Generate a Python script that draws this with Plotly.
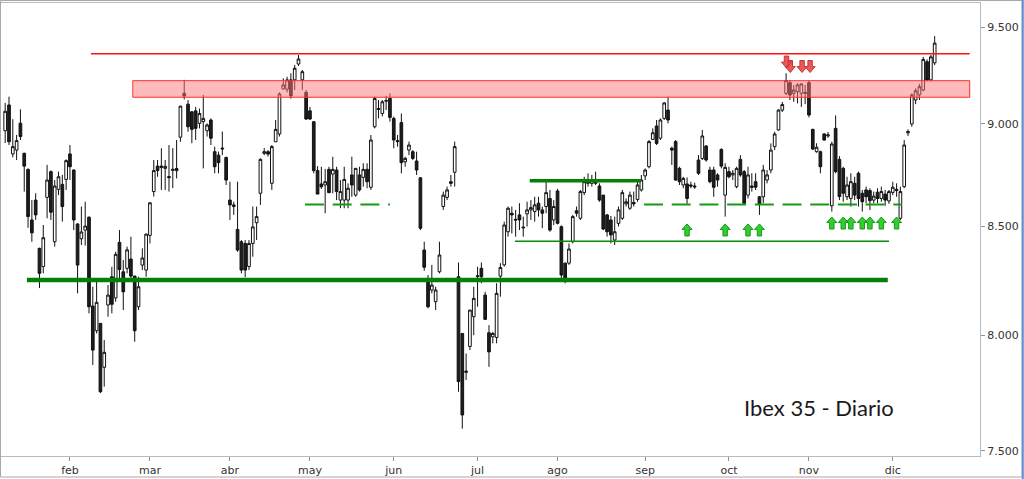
import math
import pandas as pd
import plotly.graph_objects as go
from pandas.tseries.offsets import CustomBusinessDay

# ---------------- data ----------------
holidays = ["2016-03-25", "2016-03-28"]
dates = pd.date_range("2016-01-07", periods=245, freq=CustomBusinessDay(holidays=holidays))

opens = [8966,9096,8851,8870,9004,8854,8775,8531,8626,8397,8312,8639,8764,8428,8678,8702,8726,8851,8772,8512,
         8442,8483,8544,8131,8020,8053,7858,8136,8265,8168,8425,8288,8304,8347,8268,8128,8319,8296,8458,8667,
         8791,8784,8780,8740,8770,8779,8934,9155,9100,9061,9066,9003,9012,8966,9020,8862,8845,8880,8833,8626,
         8595,8486,8428,8420,8312,8420,8518,8659,8854,8862,8707,8911,8950,9177,9176,9224,9224,9306,9224,9160,
         9066,9011,8769,8704,8699,8775,8752,8772,8626,8626,8626,8748,8650,8748,8736,8775,8688,8986,9078,9053,
         9115,9129,9028,8917,9007,8812,8870,8862,8816,8734,8389,8242,8204,8151,8288,8595,8639,8715,8761,8265,
         8008,7836,7950,8083,8266,8304,8181,8011,7993,7990,8268,8320,8475,8563,8534,8555,8497,8560,8579,8571,
         8611,8579,8595,8634,8531,8670,8499,8328,8328,8428,8575,8539,8662,8707,8707,8707,8694,8650,8555,8531,
         8436,8515,8539,8608,8587,8615,8629,8675,8743,8788,8923,8990,8929,9028,9070,8879,8912,8780,8699,8704,
         8699,8694,8821,8828,8890,8772,8772,8748,8873,8650,8764,8748,8691,8824,8764,8650,8694,8715,8642,8642,
         8723,8772,8887,8970,9070,9155,9210,9155,9164,9155,9160,9210,8973,8862,8862,8950,8940,8599,8978,8824,
         8780,8642,8634,8707,8756,8659,8675,8672,8626,8664,8634,8655,8622,8663,8678,8539,8691,8955,9000,9121,
         9147,9172,9318,9224,9312]
highs = [9106,9138,9024,8945,9074,8857,8780,8626,8659,8400,8507,8797,8770,8723,8764,8748,8824,8895,8775,8515,
         8595,8618,8548,8219,8250,8055,7979,8227,8311,8381,8483,8343,8405,8452,8270,8265,8397,8466,8615,8821,
         8821,8879,8821,8895,8880,8920,9092,9224,9121,9065,9086,9078,9147,9003,9028,8887,8862,8962,8838,8715,
         8618,8715,8436,8436,8436,8595,8595,8829,8880,8870,8895,9020,9160,9232,9240,9258,9301,9353,9275,9172,
         9086,9015,8791,8788,8777,8788,8837,8788,8723,8788,8707,8837,8782,8788,8805,8805,8945,9138,9121,9121,
         9142,9155,9037,8945,9053,8837,8912,8870,8862,8736,8428,8273,8320,8219,8428,8667,8691,8748,8912,8331,
         8008,7919,8113,8219,8311,8331,8196,8045,8015,8235,8328,8523,8595,8595,8579,8611,8547,8618,8626,8642,
         8642,8595,8715,8675,8626,8680,8505,8331,8420,8555,8595,8675,8739,8756,8748,8764,8707,8650,8560,8550,
         8547,8595,8675,8634,8667,8667,8715,8748,8780,8920,8978,9020,9028,9111,9138,8887,8920,8788,8739,8736,
         8715,8710,8845,8970,8895,8788,8788,8756,8879,8805,8788,8772,8788,8845,8772,8788,8756,8756,8645,8797,
         8772,8903,8961,9074,9111,9258,9224,9198,9207,9207,9198,9221,8976,8904,8867,8954,8960,8912,9043,8840,
         8788,8739,8756,8739,8764,8675,8691,8683,8667,8683,8691,8675,8675,8715,8707,8691,8920,8973,9155,9180,
         9203,9343,9330,9353,9452]
lows = [8905,8895,8834,8821,8920,8667,8494,8428,8531,8213,8281,8539,8531,8405,8650,8523,8675,8723,8483,8189,
        8413,8410,8098,7868,8008,7746,7774,8083,8098,8151,8250,8113,8281,8250,7971,8113,8296,8265,8420,8643,
        8739,8675,8675,8667,8684,8731,8911,9124,8961,8904,8920,8978,8780,8937,8895,8756,8756,8845,8699,8531,
        8555,8381,8281,8263,8296,8358,8436,8603,8845,8838,8675,8911,8937,9176,9160,9128,9172,9296,9172,9020,
        9020,8756,8655,8680,8563,8659,8659,8626,8587,8587,8587,8642,8642,8667,8691,8683,8675,8978,9028,9038,
        9070,9012,8879,8887,8756,8788,8845,8821,8748,8483,8293,8121,8189,8113,8281,8579,8626,8691,8691,7752,
        7594,7803,7934,8000,8128,8235,8068,7860,7964,7964,8174,8312,8452,8467,8452,8483,8452,8500,8531,8523,
        8547,8492,8563,8475,8507,8510,8258,8235,8320,8420,8547,8531,8650,8691,8691,8699,8618,8483,8452,8420,
        8413,8500,8531,8595,8579,8595,8618,8667,8723,8780,8920,8895,8920,9020,9003,8797,8720,8699,8683,8608,
        8683,8680,8748,8821,8813,8707,8642,8691,8780,8547,8731,8723,8683,8739,8603,8634,8667,8675,8555,8611,
        8707,8756,8870,8966,9060,9146,9121,9112,9104,9086,9100,9033,8870,8857,8756,8916,8930,8571,8756,8626,
        8618,8626,8595,8626,8595,8571,8611,8579,8611,8611,8618,8599,8608,8650,8642,8531,8683,8940,8986,9100,
        9121,9165,9216,9216,9300]
closes = [9064,8911,8887,8917,8937,8791,8547,8470,8555,8281,8447,8723,8568,8694,8739,8595,8818,8788,8531,8319,
          8474,8502,8128,7934,8148,7752,7924,8181,8139,8369,8299,8196,8390,8268,8020,8219,8352,8464,8613,8769,
          8769,8791,8790,8735,8775,8769,9090,9141,8986,8973,8978,9053,9028,8995,8929,8788,8808,8876,8723,8603,
          8603,8389,8296,8296,8420,8498,8547,8824,8862,8850,8887,8973,9152,9198,9224,9142,9284,9332,9266,9025,
          9025,8769,8655,8690,8715,8662,8775,8667,8667,8726,8683,8699,8780,8675,8775,8715,8920,9129,9074,9112,
          9118,9033,8920,8912,8808,8829,8895,8829,8772,8492,8309,8128,8227,8204,8366,8650,8675,8707,8887,7796,
          7652,7841,8113,8166,8269,8265,8071,7926,8008,8189,8308,8507,8587,8555,8531,8531,8494,8579,8590,8603,
          8579,8563,8662,8483,8595,8515,8273,8258,8394,8547,8563,8667,8715,8715,8723,8715,8626,8488,8475,8460,
          8475,8579,8662,8618,8650,8608,8699,8723,8772,8912,8956,8903,9020,9106,9020,8870,8723,8715,8731,8634,
          8694,8690,8756,8940,8821,8715,8688,8723,8791,8785,8739,8756,8780,8748,8611,8748,8688,8688,8606,8772,
          8748,8870,8950,9070,9098,9221,9146,9172,9198,9203,9155,9045,8875,8884,8788,8920,8945,8900,8764,8643,
          8659,8699,8715,8650,8634,8618,8642,8623,8645,8634,8667,8626,8667,8688,8672,8667,8895,8962,9147,9168,
          9189,9330,9224,9343,9415]

month_names = ["ene", "feb", "mar", "abr", "may", "jun", "jul", "ago", "sep", "oct", "nov", "dic"]
y_ticks = [7500, 8000, 8500, 9000, 9500]
y_labels = ["7.500", "8.000", "8.500", "9.000", "9.500"]

# chart annotations (levels drawn by the analyst)
resist_line = {"level": 9360, "start": 22.5, "end": 253.2}
resist_zone = {"low": 9135, "high": 9220, "start": 33.5, "end": 253.2}
support_main = {"level": 8250, "start": 5.7, "end": 231.7}
support_upper = {"level": 8720, "start": 137.7, "end": 166.9}
support_thin = {"level": 8430, "start": 133.8, "end": 232.0}
dashed_levels = [{"level": 8605, "start": 78.7, "end": 101.0},
                 {"level": 8605, "start": 167.7, "end": 235.4}]
up_arrow_idx = [179, 189, 195, 198, 217, 220, 222, 225, 227, 230, 234]
up_arrow_tip = [8512, 8512, 8512, 8512, 8545, 8545, 8545, 8545, 8545, 8545, 8545]
down_arrow_idx = [205.1, 206.1, 209.2, 211.3]
down_arrow_tip = [9285, 9262, 9262, 9262]

# ---------------- figure ----------------
x = list(range(len(dates)))
tick_idx = [i for i in range(1, len(dates)) if dates[i].month != dates[i - 1].month]
tick_txt = [month_names[dates[i].month - 1] for i in tick_idx]

X_RANGE = [-1.1, 255.9]
Y_RANGE = [7479, 9628]
PLOT_L, PLOT_T, PLOT_W, PLOT_H = 1, 3, 979, 453
px_per_x = PLOT_W / (X_RANGE[1] - X_RANGE[0])
px_per_ln = PLOT_H / math.log(Y_RANGE[1] / Y_RANGE[0])


def arrow_poly(cx, tip, up=True, w=10, head=5.5, stem=4.4, total=12):
    pts = [(0, 0), (w / 2, head), (stem / 2, head), (stem / 2, total),
           (-stem / 2, total), (-stem / 2, head), (-w / 2, head), (0, 0)]
    xs, ys = [], []
    for dx, dy in pts:
        xs.append(cx + dx / px_per_x)
        f = math.exp(-dy / px_per_ln) if up else math.exp(dy / px_per_ln)
        ys.append(tip * f)
    return xs, ys


def px2paper_x(px):
    return (px - PLOT_L) / PLOT_W


def px2paper_y(py):
    return (PLOT_T + PLOT_H - py) / PLOT_H


fig = go.Figure()

# resistance zone
z = resist_zone
fig.add_trace(go.Scatter(x=[z["start"], z["end"], z["end"], z["start"], z["start"]],
                         y=[z["low"], z["low"], z["high"], z["high"], z["low"]],
                         mode="lines", fill="toself", fillcolor="rgba(255,120,120,0.5)",
                         line=dict(color="#ff3030", width=1), hoverinfo="skip", showlegend=False))

fig.add_trace(go.Candlestick(
    x=x, open=opens, high=highs, low=lows, close=closes,
    increasing=dict(line=dict(color="#111111", width=1), fillcolor="white"),
    decreasing=dict(line=dict(color="#111111", width=1), fillcolor="#1e1e1e"),
    whiskerwidth=0, showlegend=False))


def hline(d, color, width, dash="solid"):
    fig.add_trace(go.Scatter(x=[d["start"], d["end"]], y=[d["level"], d["level"]], mode="lines",
                             line=dict(color=color, width=width, dash=dash),
                             hoverinfo="skip", showlegend=False))


hline(resist_line, "#ff1010", 1.5)
hline(support_main, "#048004", 4.5)
hline(support_upper, "#048004", 3.5)
hline(support_thin, "#0c8a0c", 1.6)
for d in dashed_levels:
    hline(d, "#169a16", 2, dash="19px,8.7px")

ax, ay = [], []
for i, t in zip(up_arrow_idx, up_arrow_tip):
    xs, ys = arrow_poly(i, t, up=True)
    ax += xs + [None]
    ay += ys + [None]
fig.add_trace(go.Scatter(x=ax, y=ay, mode="lines", fill="toself", fillcolor="#33cc33",
                         line=dict(color="#179a17", width=1), hoverinfo="skip", showlegend=False))

bx, by = [], []
for i, t in zip(down_arrow_idx, down_arrow_tip):
    xs, ys = arrow_poly(i, t, up=False, w=10, head=6, stem=4.4, total=12)
    bx += xs + [None]
    by += ys + [None]
fig.add_trace(go.Scatter(x=bx, y=by, mode="lines", fill="toself", fillcolor="#e85a5a",
                         line=dict(color="#c83434", width=1), hoverinfo="skip", showlegend=False))

fig.add_annotation(text="Ibex 35 - Diario", xref="paper", yref="paper", x=0.8355, y=0.108,
                   xanchor="center", yanchor="middle", showarrow=False,
                   font=dict(family="Lato", size=22, color="#1a1a1a"))

# outer picture border (grey frame, blue right edge)
fig.add_shape(type="rect", xref="paper", yref="paper",
              x0=px2paper_x(0.5), x1=px2paper_x(1022), y0=px2paper_y(477), y1=px2paper_y(0.5),
              line=dict(color="#a8a8a8", width=1), fillcolor="rgba(0,0,0,0)", layer="above")
fig.add_shape(type="line", xref="paper", yref="paper",
              x0=px2paper_x(1022.8), x1=px2paper_x(1022.8), y0=px2paper_y(479), y1=px2paper_y(0),
              line=dict(color="#5f8fd8", width=2), layer="above")

fig.update_layout(
    width=1024, height=479,
    margin=dict(l=PLOT_L, r=1024 - PLOT_L - PLOT_W, t=PLOT_T, b=479 - PLOT_T - PLOT_H),
    paper_bgcolor="white", plot_bgcolor="white",
    showlegend=False,
    boxgap=0.3, boxgroupgap=0.0,
    xaxis=dict(range=X_RANGE, tickvals=tick_idx, ticktext=tick_txt, ticks="outside", ticklen=4,
               tickcolor="#8a949e", showgrid=False, zeroline=False, showline=True, mirror=True,
               linecolor="#b4bcc4", linewidth=1, rangeslider=dict(visible=False),
               tickfont=dict(family="DejaVu Sans", size=11, color="#333333")),
    yaxis=dict(type="log", range=[math.log10(Y_RANGE[0]), math.log10(Y_RANGE[1])], side="right",
               tickvals=y_ticks, ticktext=y_labels, ticks="outside", ticklen=4, tickcolor="#8a949e",
               showgrid=False, zeroline=False, showline=True, mirror=True, linecolor="#b4bcc4",
               linewidth=1, tickfont=dict(family="DejaVu Sans", size=11, color="#333333")),
)

fig.write_html("out.html")
